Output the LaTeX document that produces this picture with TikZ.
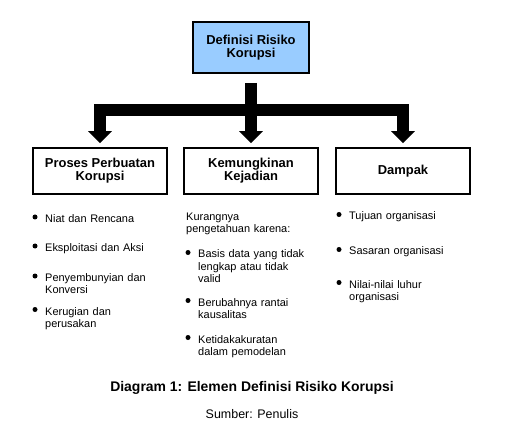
\documentclass[tikz,border=0pt]{standalone}
\usepackage{fontspec}
\setmainfont{Liberation Sans}
\usepackage{tikz}
\usetikzlibrary{arrows.meta, positioning}
\definecolor{skyblue}{RGB}{153,204,255}
\tikzset{
    normal/.style={draw, line width=1.5bp},
    box/.style={style=normal, minimum width=134bp, minimum height=46bp, align=center, inner sep=0, font=\fontsize{13}{13}\selectfont\bfseries},
    topbox/.style={style=box, line width=2bp, fill=skyblue, minimum width=116bp, minimum height=51bp},
    stem/.style={line width=12bp, shorten <=9bp}, % trunk under the top box
    fork/.style={line width=12bp, line join=miter, -{Triangle[width=23bp,length=12bp]}, shorten >=4bp}, % branch to a box
    item/.style={anchor=base west, inner sep=0, text width=140bp, align=left, font=\fontsize{11}{12.5}\selectfont},
    dot/.style={circle, fill, inner sep=0, minimum size=5bp}
}

\begin{document}
\begin{tikzpicture}[x=1bp, y=-1bp]
          \useasboundingbox (0, 0) rectangle (526, 435);
          \node[topbox] (defn) at (251, 47.5) {Definisi Risiko\\Korupsi};
          \node[box] (proses) at (100, 171) {Proses Perbuatan\\Korupsi};
          \node[box] (kemungkinan) at (251, 171) {Kemungkinan\\Kejadian};
          \node[box] (dampak) at (403, 171) {Dampak};
          \coordinate (split) at (251, 110.5);

          \draw[stem] (defn.south) -- (split);
          \draw[fork] (split) -| (proses.north);
          \draw[fork] (split) -- (kemungkinan.north);
          \draw[fork] (split) -| (dampak.north);

          % left column
          \node[item] (p1) at (45, 222.5) {Niat dan Rencana};
          \node[item] (p2) at (45, 251.5) {Eksploitasi dan Aksi};
          \node[item] (p3) at (45, 281.5) {Penyembunyian dan\\Konversi};
          \node[item] (p4) at (45, 315) {Kerugian dan\\perusakan};

          % middle column
          \node[item] (k0) at (186, 220.5) {Kurangnya\\pengetahuan karena:};
          \node[item] (k1) at (198, 258) {Basis data yang tidak\\lengkap atau tidak\\valid};
          \node[item] (k2) at (198, 306) {Berubahnya rantai\\kausalitas};
          \node[item] (k3) at (198, 343) {Ketidakakuratan\\dalam pemodelan};

          % right column
          \node[item] (d1) at (349, 220) {Tujuan organisasi};
          \node[item] (d2) at (349, 255) {Sasaran organisasi};
          \node[item] (d3) at (349, 288) {Nilai-nilai luhur\\organisasi};

          \foreach \i in {p1, p2, p3, p4, k1, k2, k3, d1, d2, d3}
            \node[dot] at ([xshift=-10bp, yshift=5.5bp]\i.base west) {};

          \node[font=\fontsize{14}{16}\selectfont\bfseries] (caption) at (252, 388) {Diagram 1: Elemen Definisi Risiko Korupsi};
          \node[font=\fontsize{12.5}{14}\selectfont] (source) at (252, 414) {Sumber: Penulis};
        \end{tikzpicture}
\end{document}
